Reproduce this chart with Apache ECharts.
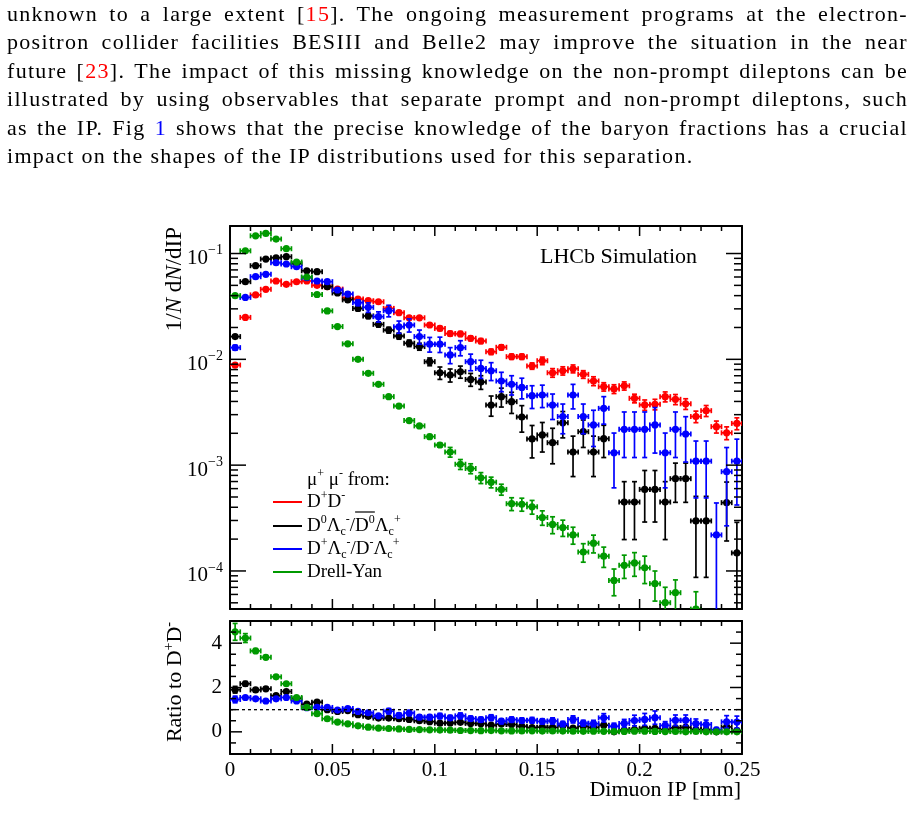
<!DOCTYPE html>
<html>
<head>
<meta charset="utf-8">
<script src="https://cdn.jsdelivr.net/npm/echarts@6.0.0/dist/echarts.min.js"></script>
<style>
  html, body { margin: 0; padding: 0; background: #fff; }
  #main { position: absolute; left: 0; top: 0; width: 917px; height: 837px; }
  #text { position: absolute; left: 7px; top: 0px; width: 901px; z-index: 2;
          font-family: 'Liberation Serif', serif; font-size: 22px; letter-spacing: 1.3px;
          line-height: 28.4px; color: #000; }
  #text div { text-align: justify; text-align-last: justify; }
  #text div.last { text-align-last: left; }
  .r { color: #ff0000; }
  .b { color: #0000ff; }
</style>
</head>
<body>
<div id="text">
  <div>unknown to a large extent [<span class="r">15</span>]. The ongoing measurement programs at the electron-</div>
  <div>positron collider facilities BESIII and Belle2 may improve the situation in the near</div>
  <div>future [<span class="r">23</span>]. The impact of this missing knowledge on the non-prompt dileptons can be</div>
  <div>illustrated by using observables that separate prompt and non-prompt dileptons, such</div>
  <div>as the IP. Fig <span class="b">1</span> shows that the precise knowledge of the baryon fractions has a crucial</div>
  <div class="last">impact on the shapes of the IP distributions used for this separation.</div>
</div>
<div id="main"></div>
<script>
// bin centres of the dimuon IP histogram [mm]
const ipBins = [0.0025, 0.0075, 0.0125, 0.0175, 0.0225, 0.0275, 0.0325, 0.0375, 0.0425, 0.0475,
  0.0525, 0.0575, 0.0625, 0.0675, 0.0725, 0.0775, 0.0825, 0.0875, 0.0925, 0.0975,
  0.1025, 0.1075, 0.1125, 0.1175, 0.1225, 0.1275, 0.1325, 0.1375, 0.1425, 0.1475,
  0.1525, 0.1575, 0.1625, 0.1675, 0.1725, 0.1775, 0.1825, 0.1875, 0.1925, 0.1975,
  0.2025, 0.2075, 0.2125, 0.2175, 0.2225, 0.2275, 0.2325, 0.2375, 0.2425, 0.2475];

// D+D- (red)
const ddVal = [0.00883, 0.0249, 0.0406, 0.0459, 0.055, 0.0512, 0.0541, 0.055, 0.05, 0.0486,
  0.0461, 0.038, 0.0371, 0.0358, 0.035, 0.0303, 0.0276, 0.0247, 0.0247, 0.0211,
  0.0196, 0.0175, 0.0174, 0.0158, 0.0149, 0.0118, 0.013, 0.0106, 0.0106, 0.00865,
  0.0097, 0.00747, 0.0078, 0.00815, 0.00721, 0.00624, 0.00551, 0.00525, 0.00562, 0.00428,
  0.00371, 0.00376, 0.00444, 0.00419, 0.0038, 0.00288, 0.00327, 0.00231, 0.00202, 0.00248];
const ddErr = [0.0003, 0.0005, 0.0007, 0.0008, 0.0009, 0.0009, 0.0009, 0.0009, 0.0009, 0.0009,
  0.0012, 0.0011, 0.0011, 0.0011, 0.0011, 0.001, 0.001, 0.0009, 0.0009, 0.0008,
  0.0009, 0.0009, 0.0009, 0.0008, 0.0008, 0.0007, 0.0007, 0.0006, 0.0006, 0.0006,
  0.0008, 0.0007, 0.0007, 0.0007, 0.0006, 0.0006, 0.0005, 0.0005, 0.0005, 0.0004,
  0.00042, 0.00043, 0.00048, 0.00046, 0.00044, 0.00036, 0.00039, 0.0003, 0.00028, 0.00032];

// D0 Lc- / D0bar Lc+ (black)
const d0LcVal = [0.0164, 0.0542, 0.0767, 0.0887, 0.0912, 0.0933, 0.08, 0.0687, 0.0673, 0.0486,
  0.0424, 0.0365, 0.0303, 0.0257, 0.0214, 0.0189, 0.0166, 0.0142, 0.0132, 0.0095,
  0.00746, 0.0071, 0.00763, 0.00646, 0.0061, 0.0037, 0.00444, 0.00398, 0.00285, 0.00177,
  0.00193, 0.00163, 0.00251, 0.00133, 0.00207, 0.00133, 0.00178, null, 0.000448, 0.000448,
  0.00059, 0.00059, 0.000448, 0.000745, 0.000745, 0.000297, 0.000297, null, 0.000442, 0.000148];
const d0LcErr = [0.0005, 0.001, 0.0013, 0.0015, 0.0015, 0.0016, 0.0014, 0.0014, 0.0014, 0.0012,
  0.0012, 0.0017, 0.0015, 0.0014, 0.0012, 0.0012, 0.0011, 0.001, 0.001, 0.0008,
  0.001, 0.001, 0.001, 0.0009, 0.0009, 0.0008, 0.0009, 0.0009, 0.0008, 0.0006,
  0.0006, 0.0006, 0.0007, 0.00055, 0.0006, 0.00055, 0.0006, null, 0.00025, 0.00025,
  0.0003, 0.0003, 0.00025, 0.0003, 0.0003, 0.00021, 0.00021, null, 0.00025, 0.00014];

// D+ Lc- / D- Lc+ (blue)
const dpLcVal = [0.0129, 0.0385, 0.0604, 0.0636, 0.0818, 0.0796, 0.075, 0.059, 0.055, 0.0542,
  0.0452, 0.0414, 0.0343, 0.031, 0.0253, 0.0288, 0.0203, 0.0211, 0.0164, 0.0139,
  0.0139, 0.011, 0.0129, 0.0095, 0.0082, 0.0078, 0.00624, 0.0058, 0.00543, 0.00453,
  0.0046, 0.0037, 0.00288, 0.0046, 0.00288, 0.0024, 0.00344, 0.00131, 0.00218, 0.00218,
  0.00218, 0.0024, 0.00131, 0.00218, 0.00197, 0.00109, 0.00109, 0.000219, 0.000867, 0.00109];
const dpLcErr = [0.0007, 0.001, 0.0014, 0.0015, 0.0018, 0.0018, 0.0018, 0.0016, 0.0016, 0.0017,
  0.0017, 0.0019, 0.0022, 0.0032, 0.0028, 0.0036, 0.0027, 0.003, 0.0025, 0.0022,
  0.0023, 0.0019, 0.0021, 0.0017, 0.0016, 0.0015, 0.0013, 0.0012, 0.0012, 0.0011,
  0.0011, 0.001, 0.0009, 0.0012, 0.0009, 0.0009, 0.001, 0.0007, 0.001, 0.001,
  0.001, 0.0011, 0.0007, 0.001, 0.0009, 0.0006, 0.0006, 0.00022, 0.0006, 0.00067];

// Drell-Yan (green)
const dyVal = [0.04, 0.106, 0.147, 0.155, 0.137, 0.111, 0.083, 0.06, 0.041, 0.0287,
  0.0204, 0.014, 0.01, 0.00738, 0.00581, 0.00444, 0.00362, 0.00264, 0.00235, 0.00186,
  0.00155, 0.00133, 0.00102, 0.00093, 0.00076, 0.00069, 0.00059, 0.000432, 0.000427, 0.000404,
  0.00032, 0.000275, 0.000257, 0.000219, 0.000151, 0.000183, 0.000138, 0.0000813, 0.000113, 0.000119,
  0.000107, 0.0000759, 0.0000501, 0.0000623, null, 0.0000436, null, null, null, null];
const dyErr = [0.0005, 0.0012, 0.0015, 0.0016, 0.0014, 0.0012, 0.0009, 0.0007, 0.0005, 0.0004,
  0.0003, 0.00025, 0.0002, 0.00018, 0.00016, 0.00014, 0.00012, 0.0001, 0.00009, 0.00008,
  0.00007, 0.00014, 0.00011, 0.0001, 0.00009, 0.00008, 0.00007, 0.00006, 0.00006, 0.00006,
  0.00005, 0.00005, 0.000045, 0.00004, 0.00003, 0.000035, 0.00003, 0.000023, 0.000028, 0.00003,
  0.000031, 0.000024, 0.00002, 0.00002, null, 0.00002, null, null, null, null];

// ratios to D+D-
const d0LcRatio = [1.9, 2.17, 1.89, 1.94, 1.63, 1.82, 1.5, 1.25, 1.34, 1.0,
  0.92, 0.96, 0.77, 0.7, 0.62, 0.62, 0.59, 0.56, 0.5, 0.46,
  0.39, 0.4, 0.43, 0.38, 0.37, 0.3, 0.35, 0.33, 0.25, 0.19,
  0.21, 0.2, 0.28, 0.17, 0.25, 0.2, 0.3, 0, 0.08, 0.1,
  0.16, 0.16, 0.1, 0.18, 0.2, 0.1, 0.09, 0, 0.22, 0.06];
const d0LcRatioErr = [0.15, 0.1, 0.07, 0.07, 0.06, 0.06, 0.05, 0.05, 0.05, 0.05,
  0.05, 0.05, 0.05, 0.05, 0.05, 0.05, 0.05, 0.05, 0.05, 0.05,
  0.05, 0.06, 0.06, 0.06, 0.06, 0.06, 0.07, 0.07, 0.07, 0.06,
  0.06, 0.07, 0.08, 0.06, 0.08, 0.07, 0.09, 0, 0.04, 0.05,
  0.06, 0.06, 0.05, 0.07, 0.08, 0.06, 0.06, 0, 0.1, 0.05];
const dpLcRatio = [1.46, 1.55, 1.49, 1.39, 1.49, 1.55, 1.39, 1.09, 1.1, 1.1,
  0.98, 1.05, 0.92, 0.86, 0.72, 0.93, 0.74, 0.85, 0.66, 0.66,
  0.71, 0.63, 0.72, 0.6, 0.55, 0.64, 0.48, 0.55, 0.51, 0.52,
  0.47, 0.49, 0.35, 0.56, 0.39, 0.37, 0.63, 0.25, 0.38, 0.51,
  0.56, 0.64, 0.29, 0.52, 0.52, 0.37, 0.33, 0.09, 0.45, 0.44];
const dpLcRatioErr = [0.15, 0.07, 0.05, 0.05, 0.05, 0.05, 0.05, 0.05, 0.05, 0.05,
  0.05, 0.06, 0.07, 0.09, 0.08, 0.12, 0.1, 0.12, 0.1, 0.11,
  0.12, 0.11, 0.13, 0.11, 0.11, 0.13, 0.11, 0.12, 0.12, 0.13,
  0.12, 0.14, 0.12, 0.16, 0.13, 0.15, 0.19, 0.14, 0.18, 0.24,
  0.27, 0.3, 0.17, 0.24, 0.24, 0.21, 0.2, 0.1, 0.28, 0.27];
const dyRatio = [4.51, 4.23, 3.65, 3.36, 2.48, 2.17, 1.55, 1.1, 0.82, 0.59,
  0.44, 0.36, 0.27, 0.21, 0.17, 0.15, 0.13, 0.11, 0.1, 0.09,
  0.08, 0.076, 0.06, 0.059, 0.051, 0.058, 0.045, 0.041, 0.04, 0.047,
  0.033, 0.037, 0.033, 0.027, 0.021, 0.029, 0.025, 0.015, 0.02, 0.028,
  0.029, 0.02, 0.011, 0.015, 0, 0.015, 0, 0, 0, 0];
const dyRatioErr = [0.38, 0.2, 0.1, 0.08, 0.06, 0.05, 0.04, 0.03, 0.025, 0.02,
  0.015, 0.012, 0.01, 0.01, 0.01, 0.01, 0.008, 0.008, 0.008, 0.008,
  0.007, 0.007, 0.006, 0.006, 0.006, 0.006, 0.005, 0.005, 0.005, 0.005,
  0.005, 0.005, 0.005, 0.005, 0.005, 0.005, 0.005, 0.005, 0.005, 0.005,
  0.005, 0.005, 0.005, 0.005, 0, 0.005, 0, 0, 0, 0];

// axes and tick positions
const xRange = [0, 0.25];
const logRange = [4.37e-5, 0.182];
const ratioRange = [-1, 5];
const xMajorTicks = [0, 0.05, 0.1, 0.15, 0.2, 0.25];
const xMinorTicks = [0.01, 0.02, 0.03, 0.04, 0.06, 0.07, 0.08, 0.09, 0.11, 0.12, 0.13, 0.14,
  0.16, 0.17, 0.18, 0.19, 0.21, 0.22, 0.23, 0.24];
const ratioTickLabels = [0, 2, 4];
const ratioMinorTicks = [-0.5, 0.5, 1, 1.5, 2.5, 3, 3.5, 4.5];
const ratioRef = 1;
const logDecades = [1e-5, 1e-4, 1e-3, 1e-2, 1e-1];
const logMinorSteps = [2, 3, 4, 5, 6, 7, 8, 9];

const RED = '#ff0000', BLACK = '#000000', BLUE = '#0000ff', GREEN = '#009900';
const FONT = 'Liberation Serif';
const binHalf = 0.0025;

function pts(vals, errs) {
  const out = [];
  ipBins.forEach(function (x, i) {
    if (vals[i] != null) out.push([x, vals[i], errs[i] || 0]);
  });
  return out;
}

function pointRenderer(isLog) {
  return function (params, api) {
    const x = api.value(0), y = api.value(1), e = api.value(2);
    const c = api.coord([x, y]);
    const l = api.coord([x - binHalf, y]);
    const r = api.coord([x + binHalf, y]);
    const lowVal = (isLog && y - e <= 0) ? y / 1000 : y - e;
    const t = api.coord([x, y + e]);
    const b = api.coord([x, lowVal]);
    const col = api.visual('color');
    const st = { stroke: col, lineWidth: 1.7 };
    const cap = 2.5;
    return {
      type: 'group',
      children: [
        { type: 'line', shape: { x1: l[0], y1: c[1], x2: r[0], y2: c[1] }, style: st },
        { type: 'line', shape: { x1: l[0], y1: c[1] - cap, x2: l[0], y2: c[1] + cap }, style: st },
        { type: 'line', shape: { x1: r[0], y1: c[1] - cap, x2: r[0], y2: c[1] + cap }, style: st },
        { type: 'line', shape: { x1: c[0], y1: t[1], x2: c[0], y2: b[1] }, style: st },
        { type: 'line', shape: { x1: c[0] - cap, y1: t[1], x2: c[0] + cap, y2: t[1] }, style: st },
        { type: 'line', shape: { x1: c[0] - cap, y1: b[1], x2: c[0] + cap, y2: b[1] }, style: st },
        { type: 'circle', shape: { cx: c[0], cy: c[1], r: 3.6 }, style: { fill: col } }
      ]
    };
  };
}

// frame ticks, drawn inward on both sides of a panel (ROOT style)
const tickStyle = { stroke: '#000', lineWidth: 1.5 };
function hTickRenderer(params, api) {
  const v = api.value(1), len = api.value(2);
  const pl = api.coord([xRange[0], v]);
  const pr = api.coord([xRange[1], v]);
  return {
    type: 'group',
    children: [
      { type: 'line', shape: { x1: pl[0], y1: pl[1], x2: pl[0] + len, y2: pl[1] }, style: tickStyle },
      { type: 'line', shape: { x1: pr[0], y1: pr[1], x2: pr[0] - len, y2: pr[1] }, style: tickStyle }
    ]
  };
}
function vTickRenderer(yr) {
  return function (params, api) {
    const x = api.value(0), len = api.value(2);
    const pb = api.coord([x, yr[0]]);
    const pt = api.coord([x, yr[1]]);
    return {
      type: 'group',
      children: [
        { type: 'line', shape: { x1: pb[0], y1: pb[1], x2: pb[0], y2: pb[1] - len }, style: tickStyle },
        { type: 'line', shape: { x1: pt[0], y1: pt[1], x2: pt[0], y2: pt[1] + len }, style: tickStyle }
      ]
    };
  };
}

const logTicks = [];
logDecades.forEach(function (d) {
  if (d > logRange[0] && d < logRange[1]) logTicks.push([0, d, 16]);
  logMinorSteps.forEach(function (s) {
    const v = d * s;
    if (v > logRange[0] && v < logRange[1]) logTicks.push([0, v, 8]);
  });
});
const ratioTicks = ratioTickLabels.map(function (v) { return [0, v, 12]; })
  .concat(ratioMinorTicks.map(function (v) { return [0, v, 6]; }));
function xTicks(yAnchor) {
  return xMajorTicks.map(function (x) { return [x, yAnchor, 10]; })
    .concat(xMinorTicks.map(function (x) { return [x, yAnchor, 5]; }));
}

function tickSeries(xi, yi, renderer, data) {
  return {
    type: 'custom', xAxisIndex: xi, yAxisIndex: yi, clip: false, silent: true, z: 5,
    encode: { x: 0, y: 1 }, renderItem: renderer, data: data
  };
}

const axLine = { show: true, onZero: false, lineStyle: { color: '#000', width: 2 } };

function xAx(grid, pos, labels) {
  return {
    type: 'value', gridIndex: grid, position: pos, min: xRange[0], max: xRange[1], interval: 0.05,
    axisLine: axLine,
    axisTick: { show: false },
    splitLine: { show: false },
    axisLabel: { show: labels, color: '#000', fontFamily: FONT, fontSize: 21, margin: 6 }
  };
}

function logAx(pos, labels) {
  return {
    type: 'log', logBase: 10, gridIndex: 0, position: pos, min: logRange[0], max: logRange[1],
    axisLine: axLine,
    axisTick: { show: false },
    splitLine: { show: false },
    axisLabel: {
      show: labels, margin: 7, color: '#000',
      formatter: function (v) {
        const e = Math.log10(v);
        const n = Math.round(e);
        if (Math.abs(e - n) > 1e-6) return '';
        return '{e| }\n{b|10}{s|' + (n < 0 ? '\u2212' : '') + Math.abs(n) + '}';
      },
      rich: {
        e: { fontFamily: FONT, fontSize: 6, lineHeight: 10 },
        b: { fontFamily: FONT, fontSize: 21, lineHeight: 30, color: '#000' },
        s: { fontFamily: FONT, fontSize: 14, lineHeight: 14, verticalAlign: 'top', color: '#000' }
      }
    }
  };
}

function ratioAx(pos, labels) {
  return {
    type: 'value', gridIndex: 1, position: pos, min: ratioRange[0], max: ratioRange[1], interval: 0.5,
    axisLine: axLine,
    axisTick: { show: false },
    splitLine: { show: false },
    axisLabel: {
      show: labels, interval: 0, margin: 8, color: '#000', fontFamily: FONT, fontSize: 21,
      formatter: function (v) { return ratioTickLabels.indexOf(v) >= 0 ? String(v) : ''; }
    }
  };
}

function histSeries(name, color, vals, errs, xi, yi, isLog) {
  return {
    name: name, type: 'custom', xAxisIndex: xi, yAxisIndex: yi, clip: true, silent: true,
    itemStyle: { color: color },
    encode: { x: 0, y: 1 },
    renderItem: pointRenderer(isLog),
    data: pts(vals, errs)
  };
}

// width helper for the legend overline
const mctx = document.createElement('canvas').getContext('2d');
function tw(txt, size) { mctx.font = size + 'px "' + FONT + '"'; return mctx.measureText(txt).width; }
const LS = 19, SS = 12;
const lgX = 307;
const barStart = lgX + tw('D', LS) + tw('0', SS) + tw('\u039b', LS) + tw('c', SS) + tw('-', SS) + tw('/', LS);
const barEnd = barStart + tw('D', LS) + tw('0', SS);

const legRich = {
  s: { fontFamily: FONT, fontSize: SS, lineHeight: SS, verticalAlign: 'top', fill: '#000' },
  u: { fontFamily: FONT, fontSize: SS, lineHeight: SS, verticalAlign: 'bottom', fill: '#000' }
};
function legText(y, txt) {
  return { type: 'text', x: lgX, y: y, style: { text: txt, fontFamily: FONT, fontSize: LS, lineHeight: 24, fill: '#000', verticalAlign: 'middle', rich: legRich } };
}
function legLine(y, color) {
  return { type: 'line', shape: { x1: 273, y1: y, x2: 302, y2: y }, style: { stroke: color, lineWidth: 2 } };
}

const chart = echarts.init(document.getElementById('main'), null, { renderer: 'canvas' });
chart.setOption({
  animation: false,
  backgroundColor: 'transparent',
  textStyle: { fontFamily: FONT },
  grid: [
    { left: 230, top: 226, width: 512, height: 383 },
    { left: 230, top: 621, width: 512, height: 133 }
  ],
  xAxis: [xAx(0, 'bottom', false), xAx(0, 'top', false), xAx(1, 'bottom', true), xAx(1, 'top', false)],
  yAxis: [logAx('left', true), logAx('right', false), ratioAx('left', true), ratioAx('right', false)],
  graphic: [
    { type: 'text', x: 540, y: 257, style: { text: 'LHCb Simulation', fontFamily: FONT, fontSize: 22, fill: '#000', verticalAlign: 'middle' } },
    { type: 'text', x: 175, y: 227, rotation: Math.PI / 2,
      style: { text: '1/{i|N} d{i|N}/dIP', fontFamily: FONT, fontSize: 23, fill: '#000', align: 'right', verticalAlign: 'middle',
        rich: { i: { fontFamily: FONT, fontSize: 23, fontStyle: 'italic', fill: '#000' } } } },
    { type: 'text', x: 175, y: 622, rotation: Math.PI / 2,
      style: { text: 'Ratio to D{s|+}D{s|-}', fontFamily: FONT, fontSize: 22, lineHeight: 26, fill: '#000', align: 'right', verticalAlign: 'middle',
        rich: { s: { fontFamily: FONT, fontSize: 14, lineHeight: 14, verticalAlign: 'top', fill: '#000' } } } },
    { type: 'text', x: 741, y: 790, style: { text: 'Dimuon IP [mm]', fontFamily: FONT, fontSize: 22, fill: '#000', align: 'right', verticalAlign: 'middle' } },
    legText(480, '\u03bc{s|+} \u03bc{s|-} from:'),
    legLine(502, RED), legText(502, 'D{s|+}D{s|-}'),
    legLine(526, BLACK), legText(526, 'D{s|0}\u039b{u|c}{s|-}/D{s|0}\u039b{u|c}{s|+}'),
    { type: 'line', shape: { x1: barStart, y1: 512, x2: barEnd, y2: 512 }, style: { stroke: '#000', lineWidth: 1.2 } },
    legLine(549, BLUE), legText(549, 'D{s|+}\u039b{u|c}{s|-}/D{s|-}\u039b{u|c}{s|+}'),
    legLine(572, GREEN), legText(572, 'Drell-Yan')
  ],
  series: [
    histSeries('D+D-', RED, ddVal, ddErr, 0, 0, true),
    histSeries('D0Lc', BLACK, d0LcVal, d0LcErr, 0, 0, true),
    histSeries('D+Lc', BLUE, dpLcVal, dpLcErr, 0, 0, true),
    histSeries('Drell-Yan', GREEN, dyVal, dyErr, 0, 0, true),
    {
      type: 'line', xAxisIndex: 2, yAxisIndex: 2, symbol: 'none', silent: true,
      lineStyle: { color: '#000', width: 1.3, type: [3, 3] },
      data: [[xRange[0], ratioRef], [xRange[1], ratioRef]]
    },
    histSeries('D0Lc ratio', BLACK, d0LcRatio, d0LcRatioErr, 2, 2, false),
    histSeries('D+Lc ratio', BLUE, dpLcRatio, dpLcRatioErr, 2, 2, false),
    histSeries('DY ratio', GREEN, dyRatio, dyRatioErr, 2, 2, false),
    tickSeries(0, 0, hTickRenderer, logTicks),
    tickSeries(0, 0, vTickRenderer(logRange), xTicks(logRange[0])),
    tickSeries(2, 2, hTickRenderer, ratioTicks),
    tickSeries(2, 2, vTickRenderer(ratioRange), xTicks(0))
  ]
});
</script>
</body>
</html>
